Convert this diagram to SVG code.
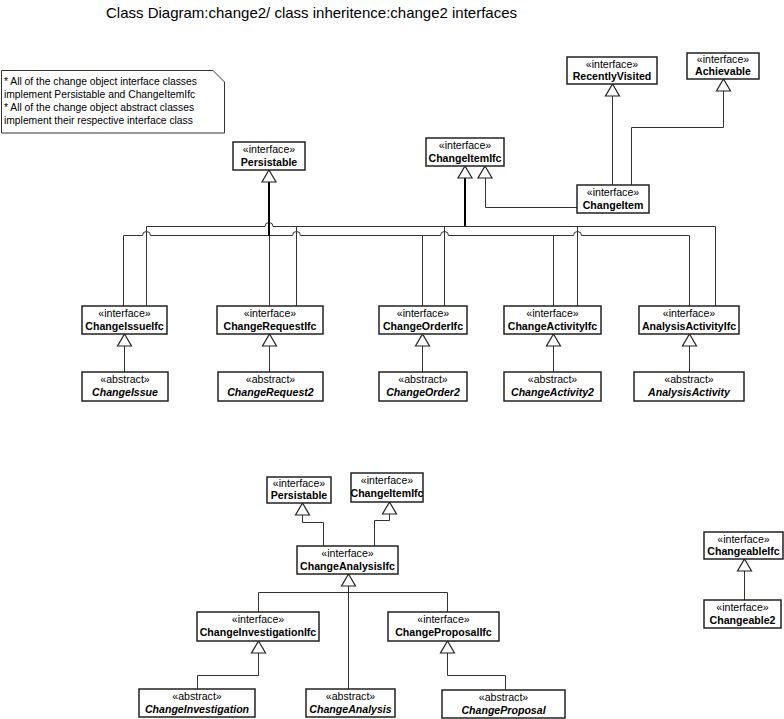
<svg xmlns="http://www.w3.org/2000/svg" xmlns:xlink="http://www.w3.org/1999/xlink" width="784" height="719" viewBox="0 0 784 719">
<style>
  text { font-family: "Liberation Sans", Arial, sans-serif; fill: #000; }
  .title { font-size: 15px; }
  .note { font-size: 10.3px; }
  .box { fill: #fff; stroke: #222; stroke-width: 1.5; }
  .st { font-size: 10.6px; text-anchor: middle; }
  .nm { font-size: 10.6px; font-weight: bold; text-anchor: middle; }
  .ab { font-style: italic; }
  .ln { fill: none; stroke: #333; stroke-width: 1; }
  .thick { fill: none; stroke: #000; stroke-width: 2; }
  .tri { fill: #fff; stroke: #222; stroke-width: 1.2; }
</style>
<defs>
  <path id="tri" class="tri" d="M0,0 L7,12 L-7,12 Z"/>
</defs>
<rect width="784" height="719" fill="#fff"/>
<text class="title" x="106" y="17.5">Class Diagram:change2/ class inheritence:change2 interfaces</text>

<g id="note">
  <path d="M1.5,70.5 H213 L224.5,82 V133 H1.5 Z" fill="#fff" stroke="#333" stroke-width="1"/>
  <text class="note" x="4" y="85">* All of the change object interface classes</text>
  <text class="note" x="4" y="98">implement Persistable and ChangeItemIfc</text>
  <text class="note" x="4" y="111">* All of the change object abstract classes</text>
  <text class="note" x="4" y="124">implement their respective interface class</text>
</g>

<g id="connectors">
  <!-- top diagram -->
  <path class="ln" d="M612.5,185 V96"/>
  <path class="ln" d="M631.5,185 V127.5 H723.5 V91"/>
  <path class="ln" d="M577,207.5 H485.5 V178"/>
  <path class="thick" d="M465,178 V226"/>
  <path class="ln" d="M146.5,306 V226.5 H265 a4,4 0 0 1 8,0 H715.5 V306"/>
  <path class="ln" d="M296.5,226.5 V306 M444.5,226.5 V306 M577.5,226.5 V306"/>
  <path class="ln" d="M123.5,306 V235.5 H142.5 a4,4 0 0 1 8,0 H292.5 a4,4 0 0 1 8,0 H440.5 a4,4 0 0 1 8,0 H573.5 a4,4 0 0 1 8,0 H689.5 V306"/>
  <path class="ln" d="M422.5,235.5 V306 M553.5,235.5 V306"/>
  <path class="thick" d="M269,181 V236"/>
  <path class="ln" d="M269.5,236 V306"/>
  <path class="ln" d="M124.5,346 V372 M269.5,346 V372 M422.5,346 V372 M553.5,346 V372 M689.5,346 V372"/>
  <!-- bottom diagram -->
  <path class="ln" d="M323.5,546 V522.5 H302.5 V514"/>
  <path class="ln" d="M374.5,546 V520.5 H389.5 V513"/>
  <path class="ln" d="M348.5,585 V689"/>
  <path class="ln" d="M258.5,612 V592.5 H447.5 V612"/>
  <path class="ln" d="M197.5,689 V675.5 H258.5 V652"/>
  <path class="ln" d="M505.5,690 V675.5 H447.5 V652"/>
  <path class="ln" d="M744.5,570 V600"/>
  <!-- arrowheads -->
  <use xlink:href="#tri" x="269" y="170"/>
  <use xlink:href="#tri" x="465" y="166"/>
  <use xlink:href="#tri" x="485" y="166"/>
  <use xlink:href="#tri" x="612.5" y="84"/>
  <use xlink:href="#tri" x="723.5" y="79"/>
  <use xlink:href="#tri" x="124.5" y="334"/>
  <use xlink:href="#tri" x="269.5" y="334"/>
  <use xlink:href="#tri" x="422.5" y="334"/>
  <use xlink:href="#tri" x="553.5" y="334"/>
  <use xlink:href="#tri" x="689.5" y="334"/>
  <use xlink:href="#tri" x="302.5" y="503"/>
  <use xlink:href="#tri" x="389.5" y="502"/>
  <use xlink:href="#tri" x="348.5" y="574"/>
  <use xlink:href="#tri" x="258.5" y="641"/>
  <use xlink:href="#tri" x="447.5" y="641"/>
  <use xlink:href="#tri" x="744.5" y="559"/>
</g>

<!-- top diagram nodes -->
<g id="persistable1"><rect class="box" x="233" y="142" width="72" height="28"/><text class="st" x="269" y="153">«interface»</text><text class="nm" x="269" y="166">Persistable</text></g>
<g id="changeItemIfc1"><rect class="box" x="426" y="138" width="78" height="28"/><text class="st" x="465" y="149">«interface»</text><text class="nm" x="465" y="162">ChangeItemIfc</text></g>
<g id="changeItem"><rect class="box" x="577" y="185" width="72" height="28"/><text class="st" x="613" y="196">«interface»</text><text class="nm" x="613" y="209">ChangeItem</text></g>
<g id="recentlyVisited"><rect class="box" x="567" y="57" width="90" height="27"/><text class="st" x="612" y="68">«interface»</text><text class="nm" x="612" y="80">RecentlyVisited</text></g>
<g id="achievable"><rect class="box" x="687" y="53" width="72" height="26"/><text class="st" x="723" y="63">«interface»</text><text class="nm" x="723" y="75">Achievable</text></g>

<g id="changeIssueIfc"><rect class="box" x="82" y="306" width="85" height="28"/><text class="st" x="124.5" y="317">«interface»</text><text class="nm" x="124.5" y="330">ChangeIssueIfc</text></g>
<g id="changeRequestIfc"><rect class="box" x="217" y="306" width="106" height="28"/><text class="st" x="270" y="317">«interface»</text><text class="nm" x="270" y="330">ChangeRequestIfc</text></g>
<g id="changeOrderIfc"><rect class="box" x="379" y="306" width="88" height="28"/><text class="st" x="423" y="317">«interface»</text><text class="nm" x="423" y="330">ChangeOrderIfc</text></g>
<g id="changeActivityIfc"><rect class="box" x="504" y="306" width="97" height="28"/><text class="st" x="552.5" y="317">«interface»</text><text class="nm" x="552.5" y="330">ChangeActivityIfc</text></g>
<g id="analysisActivityIfc"><rect class="box" x="639" y="306" width="100" height="28"/><text class="st" x="689" y="317">«interface»</text><text class="nm" x="689" y="330">AnalysisActivityIfc</text></g>

<g id="changeIssue"><rect class="box" x="82" y="372" width="86" height="29"/><text class="st" x="125" y="383">«abstract»</text><text class="nm ab" x="125" y="396">ChangeIssue</text></g>
<g id="changeRequest2"><rect class="box" x="218" y="372" width="105" height="29"/><text class="st" x="270.5" y="383">«abstract»</text><text class="nm ab" x="270.5" y="396">ChangeRequest2</text></g>
<g id="changeOrder2"><rect class="box" x="379" y="372" width="88" height="29"/><text class="st" x="423" y="383">«abstract»</text><text class="nm ab" x="423" y="396">ChangeOrder2</text></g>
<g id="changeActivity2"><rect class="box" x="504" y="372" width="97" height="29"/><text class="st" x="552.5" y="383">«abstract»</text><text class="nm ab" x="552.5" y="396">ChangeActivity2</text></g>
<g id="analysisActivity"><rect class="box" x="634" y="372" width="110" height="29"/><text class="st" x="689" y="383">«abstract»</text><text class="nm ab" x="689" y="396">AnalysisActivity</text></g>

<!-- bottom diagram nodes -->
<g id="persistable2"><rect class="box" x="267" y="477" width="64" height="26"/><text class="st" x="299" y="487">«interface»</text><text class="nm" x="299" y="499">Persistable</text></g>
<g id="changeItemIfc2"><rect class="box" x="351" y="473" width="72" height="29"/><text class="st" x="387" y="484">«interface»</text><text class="nm" x="387" y="497">ChangeItemIfc</text></g>
<g id="changeAnalysisIfc"><rect class="box" x="297" y="546" width="101" height="28"/><text class="st" x="347.5" y="557">«interface»</text><text class="nm" x="347.5" y="570">ChangeAnalysisIfc</text></g>
<g id="changeInvestigationIfc"><rect class="box" x="197" y="612" width="122" height="29"/><text class="st" x="258" y="623">«interface»</text><text class="nm" x="258" y="636">ChangeInvestigationIfc</text></g>
<g id="changeProposalIfc"><rect class="box" x="388" y="612" width="111" height="29"/><text class="st" x="443.5" y="623">«interface»</text><text class="nm" x="443.5" y="636">ChangeProposalIfc</text></g>
<g id="changeInvestigation"><rect class="box" x="139" y="689" width="116" height="28"/><text class="st" x="197" y="700">«abstract»</text><text class="nm ab" x="197" y="713">ChangeInvestigation</text></g>
<g id="changeAnalysis"><rect class="box" x="306" y="689" width="89" height="28"/><text class="st" x="350.5" y="700">«abstract»</text><text class="nm ab" x="350.5" y="713">ChangeAnalysis</text></g>
<g id="changeProposal"><rect class="box" x="442" y="690" width="123" height="28"/><text class="st" x="503.5" y="701">«abstract»</text><text class="nm ab" x="503.5" y="714">ChangeProposal</text></g>
<g id="changeableIfc"><rect class="box" x="704" y="532" width="79" height="27"/><text class="st" x="743.5" y="543">«interface»</text><text class="nm" x="743.5" y="555">ChangeableIfc</text></g>
<g id="changeable2"><rect class="box" x="704" y="600" width="77" height="28"/><text class="st" x="742.5" y="611">«interface»</text><text class="nm" x="742.5" y="624">Changeable2</text></g>
</svg>
